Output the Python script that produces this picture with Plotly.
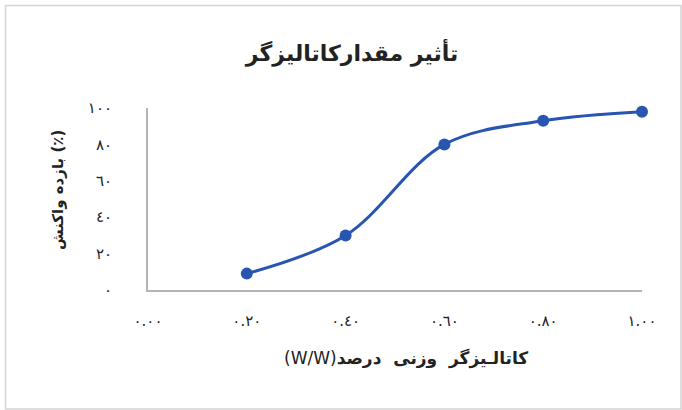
import plotly.graph_objects as go

# Data
catalyst_wt = [0.2, 0.4, 0.6, 0.8, 1.0]
yield_pct = [9, 30, 80, 93, 98]

x_tickvals = [0.0, 0.2, 0.4, 0.6, 0.8, 1.0]
x_ticktext = ["٠.٠٠", "٠.٢٠", "٠.٤٠", "٠.٦٠", "٠.٨٠", "١.٠٠"]
y_tickvals = [0, 20, 40, 60, 80, 100]
y_ticktext = ["٠", "٢٠", "٤٠", "٦٠", "٨٠", "١٠٠"]

title_text = "تأثیر مقدارکاتالیزگر"
x_title_unit = "(W/W)"
x_title_words = ["درصد", "وزنی", "کاتالـیزگر"]
y_title = "بازده واکنش (٪)"

BLUE = "#2755b0"
FONT = "DejaVu Sans"
LRM = "\u200e"

fig = go.Figure()
fig.add_trace(go.Scatter(
    x=catalyst_wt, y=yield_pct,
    mode="lines+markers",
    line=dict(color=BLUE, width=3, shape="spline", smoothing=1.0),
    marker=dict(color=BLUE, size=12),
    cliponaxis=False,
    showlegend=False,
))

W, H = 682, 410
ml, mr, mt, mb = 148, 40, 108, 120
pw, ph = W - ml - mr, H - mt - mb

def px_to_paper_x(px):
    return (px - ml) / pw

def px_to_paper_y(py):
    return (H - mb - py) / ph

x_title_text = x_title_unit + "<b>" + (LRM + "\u00a0\u00a0" + LRM).join(x_title_words) + "</b>"

fig.update_layout(
    width=W, height=H,
    margin=dict(l=ml, r=mr, t=mt, b=mb),
    paper_bgcolor="white", plot_bgcolor="white",
    font=dict(family=FONT, color="#222222"),
    title=dict(text="<b>" + title_text + "</b>", x=352 / W, xref="container",
               y=1 - 53 / H, yref="container", xanchor="center", yanchor="middle",
               font=dict(size=22, color="#222222", family=FONT)),
    xaxis=dict(range=[0, 1], tickvals=x_tickvals, ticktext=x_ticktext,
               showgrid=False, zeroline=False, showline=True,
               linecolor="#b3b3b3", linewidth=2, ticks="",
               ticklabelstandoff=16,
               tickfont=dict(size=15, color="#222222", family=FONT)),
    yaxis=dict(range=[0, 100], tickvals=y_tickvals, ticktext=y_ticktext,
               showgrid=False, zeroline=False, showline=True,
               linecolor="#b3b3b3", linewidth=2, ticks="",
               ticklabelstandoff=31,
               tickfont=dict(size=15, color="#222222", family=FONT)),
    shapes=[dict(type="rect", xref="paper", yref="paper",
                 x0=px_to_paper_x(5.5), x1=px_to_paper_x(681),
                 y0=px_to_paper_y(409), y1=px_to_paper_y(5.5),
                 line=dict(color="#d4d4d4", width=1.5), layer="below")],
    annotations=[
        dict(text=x_title_text, xref="paper", yref="paper",
             x=px_to_paper_x(406), y=px_to_paper_y(358),
             xanchor="center", yanchor="middle", showarrow=False,
             font=dict(size=17, color="#222222", family=FONT)),
        dict(text="<b>" + y_title + "</b>", xref="paper", yref="paper",
             x=px_to_paper_x(58), y=px_to_paper_y(190),
             xanchor="center", yanchor="middle", showarrow=False, textangle=-90,
             font=dict(size=15, color="#222222", family=FONT)),
    ],
)

fig.write_html("out.html", config={"displayModeBar": False},
               post_script="document.body.style.margin='0';document.body.style.overflow='hidden';")
